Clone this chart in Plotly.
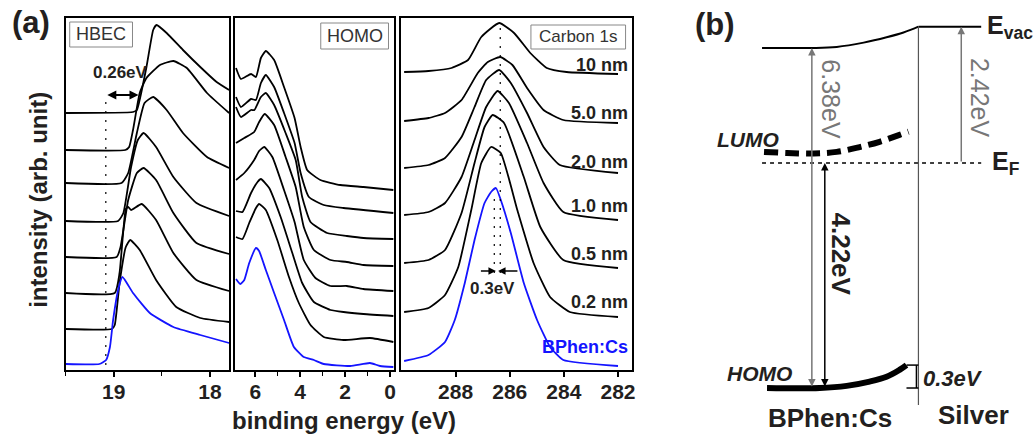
import plotly.graph_objects as go

W, H = 1033, 438
FONT = "Liberation Sans"
TXT = "#231f20"
BLUE = "#1414ff"
GRAY = "#777777"

# ---------------- DATA ----------------
# Panel (a) HBEC: binding energy (eV) / intensity (arb.), 7 Cs-thickness curves (top->bottom) + BPhen:Cs (blue)
hbec_energy = [
    [19.5, 18.80, 18.76, 18.66, 18.59, 18.555, 18.45, 18.28, 18.10, 17.93, 17.8],
    [19.5, 18.88, 18.84, 18.80, 18.73, 18.66, 18.52, 18.38, 18.24, 18.03, 17.8],
    [19.5, 18.92, 18.85, 18.76, 18.68, 18.59, 18.45, 18.28, 18.03, 17.8],
    [19.5, 18.955, 18.90, 18.82, 18.75, 18.69, 18.56, 18.38, 18.14, 17.8],
    [19.5, 18.97, 18.93, 18.85, 18.76, 18.69, 18.56, 18.38, 18.14, 17.8],
    [19.5, 18.99, 18.94, 18.875, 18.85, 18.82, 18.71, 18.56, 18.38, 18.14, 17.8],
    [19.5, 19.02, 18.99, 18.94, 18.875, 18.83, 18.73, 18.56, 18.35, 18.10, 17.8],
]
hbec_intensity = [
    [257, 258, 260, 303, 340, 345, 337, 320, 303, 288, 280],
    [220, 220, 223, 240, 277, 292, 305, 309, 302, 277, 257],
    [187, 187, 197, 237, 267, 273, 260, 237, 213, 202],
    [149, 149, 157, 203, 230, 237, 223, 193, 167, 154],
    [113, 113, 123, 170, 197, 202, 190, 157, 127, 116],
    [77, 77, 97, 161, 163, 160, 166, 150, 117, 90, 79],
    [41, 41, 45, 87, 123, 130, 120, 90, 63, 52, 48],
]
hbec_bphen_energy = [19.5, 19.15, 19.08, 19.04, 19.007, 18.955, 18.91, 18.80, 18.625, 18.38, 18.10, 17.8]
hbec_bphen_intensity = [6, 6, 10, 23, 50, 80, 93, 77, 57, 43, 35, 27]
hbec_cutoff_bphen = 19.083
hbec_cutoff_shift = 0.26

# Panel (a) HOMO region
homo_energy = [
    [6.86, 6.64, 6.19, 5.97, 5.75, 5.53, 5.16, 4.72, 4.25, 3.98, 3.69, 3.10, 2.21, 1.18, -0.15],
    [6.86, 6.64, 6.19, 5.97, 5.75, 5.53, 5.16, 4.72, 4.25, 3.98, 3.61, 2.95, 2.07, -0.15],
    [6.86, 6.64, 6.19, 6.04, 5.75, 5.53, 5.16, 4.65, 4.20, 3.91, 3.54, 2.80, 1.92, 1.18, -0.15],
    [6.86, 6.49, 6.05, 5.83, 5.58, 5.16, 4.65, 4.20, 3.84, 3.39, 2.65, 1.92, 1.18, -0.15],
    [6.86, 6.49, 6.05, 5.83, 5.60, 5.24, 4.72, 4.25, 3.84, 3.32, 2.65, 1.92, 1.18, -0.15],
    [6.86, 6.57, 6.19, 5.90, 5.75, 5.38, 4.87, 4.35, 3.91, 3.39, 2.65, 2.07, 1.18, -0.15],
    [6.86, 6.57, 6.27, 5.97, 5.83, 5.53, 5.02, 4.50, 4.06, 3.54, 2.95, 2.07, 0.89, -0.15],
]
homo_intensity = [
    [302, 291, 296, 293, 312, 319, 310, 283, 252, 223, 200, 190, 185, 183, 180],
    [273, 263, 271, 270, 287, 295, 283, 257, 227, 197, 173, 165, 162, 157],
    [263, 253, 260, 260, 273, 277, 265, 237, 210, 173, 148, 137, 134, 132, 131],
    [227, 232, 238, 248, 256, 245, 213, 183, 143, 120, 110, 108, 105, 104],
    [190, 197, 210, 219, 223, 213, 180, 148, 110, 92, 84, 84, 81, 79],
    [159, 158, 177, 188, 191, 182, 153, 117, 87, 68, 60, 58, 56, 54],
    [133, 131, 147, 162, 166, 160, 130, 93, 67, 45, 33, 30, 32, 28],
]
homo_bphen_energy = [6.86, 6.67, 6.49, 6.27, 5.97, 5.83, 5.53, 5.16, 4.72, 4.28, 3.84, 3.39, 2.95, 1.77, 0.89, 0.44, -0.15]
homo_bphen_intensity = [91, 86, 90, 107, 122, 119, 100, 77, 50, 23, 13, 10, 6, 4, 7, 4, 3]

# Panel (a) Carbon 1s
c1s_labels = ["10 nm", "5.0 nm", "2.0 nm", "1.0 nm", "0.5 nm", "0.2 nm"]
c1s_label_level = [305, 257, 208, 164, 116, 68]
c1s_energy = [
    [289.9, 289.0, 288.15, 287.54, 287.05, 286.39, 285.84, 285.24, 284.63, 283.90, 282.0],
    [289.9, 289.0, 288.39, 287.78, 287.18, 286.81, 286.35, 285.90, 285.36, 284.75, 284.02, 282.0],
    [289.9, 289.0, 288.39, 287.78, 287.30, 286.87, 286.39, 285.96, 285.36, 284.75, 284.15, 282.0],
    [289.9, 289.0, 288.39, 287.78, 287.30, 286.87, 286.45, 286.03, 285.36, 284.75, 284.02, 282.0],
    [289.9, 289.0, 288.39, 287.78, 287.30, 286.93, 286.63, 286.21, 285.48, 284.87, 284.02, 282.0],
    [289.9, 289.0, 288.39, 287.90, 287.42, 287.05, 286.69, 286.33, 285.72, 285.12, 284.51, 283.78, 282.0],
]
c1s_intensity = [
    [298, 299, 302, 310, 333, 347, 337, 317, 302, 298, 296],
    [249, 252, 257, 270, 297, 308, 313, 305, 282, 260, 250, 247],
    [202, 205, 212, 233, 263, 290, 300, 287, 257, 223, 205, 197],
    [155, 158, 167, 193, 230, 263, 279, 267, 227, 187, 158, 150],
    [107, 110, 120, 157, 207, 243, 255, 247, 193, 143, 110, 102],
    [58, 62, 75, 103, 160, 207, 223, 217, 160, 107, 73, 58, 53],
]
c1s_bphen_energy = [289.9, 289.0, 288.39, 288.03, 287.66, 287.30, 286.93, 286.69, 286.51, 286.33, 285.96, 285.48, 284.99, 284.51, 284.02, 282.0]
c1s_bphen_intensity = [9, 15, 28, 50, 87, 130, 167, 178, 182, 170, 137, 87, 50, 23, 10, 4]
c1s_peak_thick = 286.35
c1s_peak_bphen = 286.57

# Panel (b) energy diagram (eV, HOMO of BPhen:Cs = 0), position relative to interface
pos_vac_org = [-157, -107, -82, -55, -32, -15, 0]
e_vac_org = [6.38, 6.38, 6.40, 6.48, 6.58, 6.67, 6.78]
pos_vac_ag = [0, 63]
e_vac_ag = [6.78, 6.78]
pos_ef = [-157, 63]
e_ef = [4.22, 4.22]
pos_lumo = [-155, -132, -105, -82, -59, -39, -19, -10]
e_lumo = [4.43, 4.41, 4.40, 4.43, 4.52, 4.62, 4.75, 4.81]
pos_homo = [-152, -99, -72, -49, -32, -19, -12]
e_homo = [0.0, 0.0, 0.04, 0.12, 0.21, 0.34, 0.43]
pos_interface = [0, 0]
e_interface = [-0.32, 6.78]

# ---------------- FIGURE ----------------
fig = go.Figure()

def px(x):
    return x / W

def py(y):
    return 1 - y / H

line_kw = dict(shape="spline", smoothing=0.45)

for xs, ys in zip(hbec_energy, hbec_intensity):
    fig.add_trace(go.Scatter(x=xs, y=ys, mode="lines", line=dict(color="black", width=1.8, **line_kw),
                             xaxis="x", yaxis="y"))
fig.add_trace(go.Scatter(x=hbec_bphen_energy, y=hbec_bphen_intensity, mode="lines",
                         line=dict(color=BLUE, width=1.8, **line_kw), xaxis="x", yaxis="y"))
fig.add_trace(go.Scatter(x=[hbec_cutoff_bphen, hbec_cutoff_bphen], y=[5, 272], mode="lines",
                         line=dict(color="black", width=1.2, dash="2px,7px"), xaxis="x", yaxis="y"))

for xs, ys in zip(homo_energy, homo_intensity):
    fig.add_trace(go.Scatter(x=xs, y=ys, mode="lines", line=dict(color="black", width=1.8, **line_kw),
                             xaxis="x2", yaxis="y2"))
fig.add_trace(go.Scatter(x=homo_bphen_energy, y=homo_bphen_intensity, mode="lines",
                         line=dict(color=BLUE, width=1.8, **line_kw), xaxis="x2", yaxis="y2"))

for xs, ys in zip(c1s_energy, c1s_intensity):
    fig.add_trace(go.Scatter(x=xs, y=ys, mode="lines", line=dict(color="black", width=1.8, **line_kw),
                             xaxis="x3", yaxis="y3"))
fig.add_trace(go.Scatter(x=c1s_bphen_energy, y=c1s_bphen_intensity, mode="lines",
                         line=dict(color=BLUE, width=1.8, **line_kw), xaxis="x3", yaxis="y3"))
fig.add_trace(go.Scatter(x=[c1s_peak_thick, c1s_peak_thick], y=[97, 343], mode="lines",
                         line=dict(color="black", width=1.2, dash="2px,7px"), xaxis="x3", yaxis="y3"))
fig.add_trace(go.Scatter(x=[c1s_peak_bphen, c1s_peak_bphen], y=[97, 178], mode="lines",
                         line=dict(color="black", width=1.2, dash="2px,7px"), xaxis="x3", yaxis="y3"))

# diagram
fig.add_trace(go.Scatter(x=pos_vac_org, y=e_vac_org, mode="lines", line=dict(color="black", width=2, shape="spline"),
                         xaxis="x4", yaxis="y4"))
fig.add_trace(go.Scatter(x=pos_vac_ag, y=e_vac_ag, mode="lines", line=dict(color="black", width=2),
                         xaxis="x4", yaxis="y4"))
fig.add_trace(go.Scatter(x=pos_ef, y=e_ef, mode="lines", line=dict(color="black", width=1.5, dash="4px,4px"),
                         xaxis="x4", yaxis="y4"))
fig.add_trace(go.Scatter(x=pos_lumo, y=e_lumo, mode="lines",
                         line=dict(color="black", width=6, dash="14px,7px", shape="spline"),
                         xaxis="x4", yaxis="y4"))
fig.add_trace(go.Scatter(x=pos_homo, y=e_homo, mode="lines", line=dict(color="black", width=6, shape="spline"),
                         xaxis="x4", yaxis="y4"))
fig.add_trace(go.Scatter(x=pos_interface, y=e_interface, mode="lines", line=dict(color="#555555", width=1.2),
                         xaxis="x4", yaxis="y4"))
fig.add_trace(go.Scatter(x=[-12, 0, None, -2, -2, None, -12, 0],
                         y=[e_homo[-1], e_homo[-1], None, e_homo[-1], e_homo[0], None, e_homo[0], e_homo[0]],
                         mode="lines", line=dict(color="black", width=1.5), xaxis="x4", yaxis="y4"))

ydom = [py(370), py(18)]
axis_common = dict(showline=True, mirror=True, linecolor="black", linewidth=1.5, showgrid=False,
                   zeroline=False, ticks="outside", ticklen=5, tickwidth=1.5, tickcolor="black",
                   ticklabelstandoff=-3,
                   tickfont=dict(family=FONT, size=21, color=TXT, weight="bold"))
yaxis_common = dict(showline=True, mirror=True, linecolor="black", linewidth=1.5, showgrid=False,
                    zeroline=False, showticklabels=False, ticks="", range=[0, 352], domain=ydom)

fig.update_layout(
    width=W, height=H, margin=dict(l=0, r=0, t=0, b=0),
    paper_bgcolor="white", plot_bgcolor="white", showlegend=False,
    font=dict(family=FONT),
    xaxis=dict(domain=[px(66), px(230)], range=[19.5, 17.8], tickvals=[19, 18],
               minor=dict(dtick=0.5, tick0=19, ticks="outside", ticklen=4, tickcolor="black", tickwidth=1.2),
               **axis_common),
    xaxis2=dict(domain=[px(236), px(396)], range=[6.9, -0.2], tickvals=[6, 4, 2, 0],
                minor=dict(dtick=1, tick0=0, ticks="outside", ticklen=4, tickcolor="black", tickwidth=1.2),
                **axis_common),
    xaxis3=dict(domain=[px(403), px(634)], range=[290, 281.5], tickvals=[288, 286, 284, 282], **axis_common),
    yaxis=dict(anchor="x", **yaxis_common),
    yaxis2=dict(anchor="x2", **yaxis_common),
    yaxis3=dict(anchor="x3", **yaxis_common),
    xaxis4=dict(domain=[px(690), 1], range=[-232, 111], visible=False),
    yaxis4=dict(domain=[0, 1], range=[-0.938, 7.280], visible=False, anchor="x4"),
)

ann = []

def txt(x, y, s, size, color=TXT, xref="paper", yref="paper", xanchor="center", yanchor="middle", angle=0):
    ann.append(dict(x=x, y=y, text=s, xref=xref, yref=yref, showarrow=False, xanchor=xanchor, yanchor=yanchor,
                    textangle=angle, font=dict(family=FONT, size=size, color=color)))

def arrow(x, y, ax, ay, xref, yref, color="black", both=True, width=1.8, size=1.0):
    ann.append(dict(x=x, y=y, ax=ax, ay=ay, xref=xref, yref=yref, axref=xref, ayref=yref, text="",
                    showarrow=True, arrowhead=2, arrowsize=size, arrowwidth=width, arrowcolor=color,
                    arrowside="end+start" if both else "end", standoff=0, startstandoff=0,
                    font=dict(family=FONT, size=12)))

# panel labels and axis titles
txt(px(31), py(22), "<b>(a)</b>", 31)
txt(px(718), py(24), "<b>(b)</b>", 31)
txt(px(345), py(420), "<b>binding energy (eV)</b>", 24)
txt(px(38), py(200), "<b>intensity (arb. unit)</b>", 24, angle=-90)

# boxed panel names
fig.add_shape(type="rect", xref="paper", yref="paper", x0=px(70), x1=px(133), y0=py(47), y1=py(22),
              line=dict(color="#888888", width=1))
txt(px(101.5), py(34.5), "HBEC", 18, color="#333333")
fig.add_shape(type="rect", xref="paper", yref="paper", x0=px(322), x1=px(390), y0=py(49), y1=py(23),
              line=dict(color="#888888", width=1))
txt(px(356), py(36), "HOMO", 18, color="#333333")
fig.add_shape(type="rect", xref="paper", yref="paper", x0=px(533), x1=px(628), y0=py(49), y1=py(25),
              line=dict(color="#888888", width=1))
txt(px(580.5), py(37), "Carbon 1s", 17, color="#333333")

# HBEC shift arrow
arrow(hbec_cutoff_bphen - hbec_cutoff_shift - 0.08, 275, hbec_cutoff_bphen, 275, "x", "y", width=1.8)
txt(18.93, 297, "<b>0.26eV</b>", 17, xref="x", yref="y")

# C1s labels
for lab, lev in zip(c1s_labels, c1s_label_level):
    txt(281.55, lev, "<b>" + lab + "</b>", 18, xref="x3", yref="y3", xanchor="right")
txt(281.55, 23, "<b>BPhen:Cs</b>", 18, color=BLUE, xref="x3", yref="y3", xanchor="right")
arrow(c1s_peak_bphen - 0.06, 99, 287.12, 99, "x3", "y3", width=1.5, both=False)
arrow(c1s_peak_thick + 0.08, 99, 285.66, 99, "x3", "y3", width=1.5, both=False)
txt(286.63, 82, "<b>0.3eV</b>", 17, xref="x3", yref="y3")

# diagram arrows and labels
arrow(-107, e_vac_org[0], -107, e_homo[0], "x4", "y4", color=GRAY, width=1.5)
arrow(-94, e_ef[0], -94, e_homo[0], "x4", "y4", color="black", width=1.5)
arrow(43, e_vac_ag[0], 43, e_ef[0], "x4", "y4", color=GRAY, both=False, width=1.5)
txt(-88, 5.42, "6.38eV", 25, color=GRAY, xref="x4", yref="y4", angle=90)
txt(62, 5.44, "2.42eV", 25, color=GRAY, xref="x4", yref="y4", angle=90)
txt(-78, 2.51, "<b>4.22eV</b>", 26, xref="x4", yref="y4", angle=90)
txt(67, 6.78, "<b>E<sub>vac</sub></b>", 25, xref="x4", yref="y4", xanchor="left")
txt(72, 4.22, "<b>E<sub>F</sub></b>", 25, xref="x4", yref="y4", xanchor="left")
txt(-171, 4.66, "<b><i>LUMO</i></b>", 21, xref="x4", yref="y4")
txt(-160, 0.28, "<b><i>HOMO</i></b>", 21, xref="x4", yref="y4")
txt(3, 0.17, "<b><i>0.3eV</i></b>", 22, xref="x4", yref="y4", xanchor="left")
txt(-89, -0.56, "<b>BPhen:Cs</b>", 26, xref="x4", yref="y4")
txt(55, -0.51, "<b>Silver</b>", 26, xref="x4", yref="y4")

fig.update_layout(annotations=ann)
fig.write_html("out.html")
